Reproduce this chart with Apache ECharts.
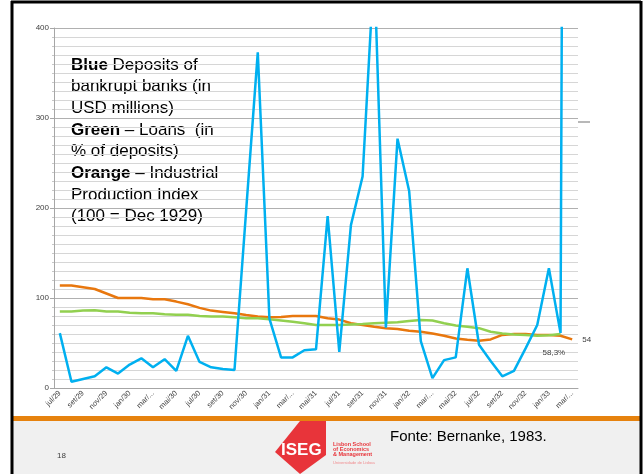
<!DOCTYPE html>
<html>
<head>
<meta charset="utf-8">
<script src="https://cdn.jsdelivr.net/npm/echarts@6/dist/echarts.min.js"></script>
<style>
  html, body { margin: 0; padding: 0; background: #fff; }
  #main { width: 643px; height: 474px; }
</style>
</head>
<body>
<div id="main"></div>
<script>
// meses jul/29 .. mar/33
let months = ['jul/29', 'ago/29', 'set/29', 'out/29', 'nov/29', 'dez/29',
    'jan/30', 'fev/30', 'mar/30', 'abr/30', 'mai/30', 'jun/30', 'jul/30', 'ago/30', 'set/30', 'out/30', 'nov/30', 'dez/30',
    'jan/31', 'fev/31', 'mar/31', 'abr/31', 'mai/31', 'jun/31', 'jul/31', 'ago/31', 'set/31', 'out/31', 'nov/31', 'dez/31',
    'jan/32', 'fev/32', 'mar/32', 'abr/32', 'mai/32', 'jun/32', 'jul/32', 'ago/32', 'set/32', 'out/32', 'nov/32', 'dez/32',
    'jan/33', 'fev/33', 'mar/33']

// Blue - deposits of bankrupt banks (USD millions)
let deposits = [61, 7, 10, 13, 23, 16, 26, 33, 23, 32, 19, 58, 29, 23, 21, 20,
    197, 373, 77, 34, 34, 42, 43, 191, 40, 181, 235, 470, 67, 277, 219, 52,
    11, 31, 34, 133, 48, 30, 13, 19, 44, 70, 133, 61, 3276]

// Orange - industrial production index (100 = Dec 1929)
let production = [114, 114, 112, 110, 105, 100, 100, 100, 98.5, 98.5, 96, 93, 89, 86, 84.5, 83,
    81, 79.5, 78.5, 79, 80, 80, 80, 77.5, 76, 72, 70, 68, 66.5, 65.5, 63.5, 62.5,
    60.5, 58, 55, 53.5, 52.5, 54, 59, 60, 60, 59, 59, 58, 54]

// Green - loans (% of deposits)
let loans = [85, 85, 86, 86.5, 85, 85, 83.5, 83, 83, 82, 81.5, 81.5, 80, 79.5, 79.5, 78.5,
    77.5, 77.5, 76.5, 75, 73.5, 72, 70, 70, 70, 70.5, 71, 72, 72.5, 73, 74.5, 75.5,
    75, 72, 69.5, 68, 66.5, 62.5, 60.5, 59.5, 59, 58, 58.5, 60]

let yTicks = [0, 100, 200, 300, 400]

let myChart = echarts.init(document.getElementById('main'))

let option = {
    animation: false,
    backgroundColor: '#fff',
    textStyle: { fontFamily: 'Liberation Sans, Arial, sans-serif' },
    grid: { left: 54, right: 65, top: 28, bottom: 86 },
    xAxis: {
        type: 'category',
        data: months,
        boundaryGap: true,
        axisLine: { lineStyle: { color: '#a6a6a6' } },
        axisTick: { interval: 1, length: 4, lineStyle: { color: '#a6a6a6' } },
        axisLabel: {
            interval: 1,
            rotate: 45,
            fontSize: 7.5,
            color: '#404040',
            margin: 4,
            formatter: function (v) {
                return v.indexOf('mar') === 0 ? 'mar/...' : v
            }
        }
    },
    yAxis: {
        type: 'value',
        min: yTicks[0],
        max: yTicks[yTicks.length - 1],
        interval: 100,
        axisLine: { show: true, lineStyle: { color: '#a6a6a6' } },
        axisTick: { show: true, length: 4, lineStyle: { color: '#a6a6a6' } },
        minorTick: { show: true, splitNumber: 10, length: 2, lineStyle: { color: '#c8c8c8' } },
        axisLabel: { fontSize: 8, color: '#404040', margin: 5 },
        splitLine: { lineStyle: { color: '#b0b0b0' } },
        minorSplitLine: { show: true, lineStyle: { color: '#d6d6d6' } }
    },
    series: [
        {
            name: 'Orange',
            type: 'line',
            data: production,
            symbol: 'none',
            lineStyle: { color: '#e8770e', width: 2.5 },
            endLabel: { show: true, formatter: '54', distance: 10, fontSize: 8, color: '#404040' }
        },
        {
            name: 'Green',
            type: 'line',
            data: loans,
            symbol: 'none',
            lineStyle: { color: '#92d050', width: 2.5 },
            endLabel: { show: true, formatter: '58,3%', distance: 5, offset: [-23, 19], fontSize: 8, color: '#404040' }
        },
        {
            name: 'Blue',
            type: 'line',
            data: deposits,
            symbol: 'none',
            lineStyle: { color: '#00b0f0', width: 2.5 }
        }
    ],
    graphic: [
        // moldura do slide
        { type: 'rect', z: -10, shape: { x: 12, y: 421, width: 628, height: 60 }, style: { fill: '#f0f0f0' } },
        { type: 'rect', shape: { x: 12, y: 416, width: 628, height: 5 }, style: { fill: '#e6820e' } },
        { type: 'line', shape: { x1: 11, y1: 2, x2: 641, y2: 2 }, style: { stroke: '#000', lineWidth: 3 } },
        { type: 'line', shape: { x1: 12, y1: 1, x2: 12, y2: 474 }, style: { stroke: '#000', lineWidth: 3 } },
        { type: 'line', shape: { x1: 641, y1: 1, x2: 641, y2: 474 }, style: { stroke: '#000', lineWidth: 3 } },
        { type: 'line', shape: { x1: 578, y1: 122, x2: 590, y2: 122 }, style: { stroke: '#a0a0a0', lineWidth: 1.5 } },
        // texto explicativo
        {
            type: 'text',
            left: 71,
            top: 54,
            style: {
                text: '{b|Blue} Deposits of\nbankrupt banks (in\nUSD millions)\n{b|Green} – Loans  (in\n% of deposits)\n{b|Orange} – Industrial\nProduction Index\n(100 = Dec 1929)',
                font: '17px Liberation Sans',
                fill: '#000',
                lineHeight: 21.7,
                rich: {
                    b: { fontWeight: 'bold', fontSize: 17, fontFamily: 'Liberation Sans', lineHeight: 21.7 }
                }
            }
        },
        // rodape
        { type: 'text', left: 57, top: 452, style: { text: '18', font: '8px Liberation Sans', fill: '#404040' } },
        { type: 'text', left: 390, top: 429, style: { text: 'Fonte: Bernanke, 1983.', font: '15px Liberation Sans', fill: '#000' } },
        { type: 'polygon', shape: { points: [[275, 452], [300, 421], [326, 421], [326, 455], [300, 474]] }, style: { fill: '#e8343a' } },
        { type: 'text', left: 281, top: 442, style: { text: 'ISEG', font: 'bold 17px Liberation Sans', fill: '#fff' } },
        { type: 'text', left: 333, top: 441, style: { text: 'Lisbon School\nof Economics\n& Management', font: 'bold 5.5px Liberation Sans', fill: '#e8343a', lineHeight: 5.2 } },
        { type: 'text', left: 333, top: 461, style: { text: 'Universidade de Lisboa', font: '4px Liberation Sans', fill: '#f08a8d' } }
    ]
}

myChart.setOption(option)
</script>
</body>
</html>
